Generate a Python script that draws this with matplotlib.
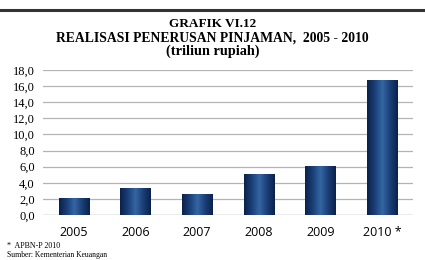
import numpy as np
import matplotlib
matplotlib.use("Agg")
import matplotlib.pyplot as plt
from matplotlib.colors import LinearSegmentedColormap

# data
years = ["2005", "2006", "2007", "2008", "2009", "2010 *"]
values = [2.1, 3.4, 2.6, 5.1, 6.1, 16.7]
yticks = [0, 2, 4, 6, 8, 10, 12, 14, 16, 18]

SERIF = ["Liberation Serif", "DejaVu Serif"]
BAR_CMAP = LinearSegmentedColormap.from_list(
    "bar", ["#0b224a", "#1a3f78", "#3566a3", "#1a3f78", "#0b224a"])

fig = plt.figure(figsize=(4.25, 2.6), dpi=100)
ax = fig.add_axes([43 / 425, 45 / 260, 370 / 425, 145 / 260])

x = np.arange(len(years))
bars = ax.bar(x, values, width=0.49, color="none", edgecolor="none", zorder=3)
grad = np.linspace(0, 1, 64).reshape(1, -1)
for b in bars:
    im = ax.imshow(grad, cmap=BAR_CMAP, aspect="auto", zorder=3,
                   extent=[b.get_x(), b.get_x() + b.get_width(), 0, b.get_height()])
    im.set_clip_path(b)

ax.set_xlim(-0.5, len(years) - 0.5)
ax.set_ylim(0, 18)
ax.set_yticks(yticks)
ax.set_yticklabels([f"{v:.1f}".replace(".", ",") for v in yticks],
                   family=SERIF, fontsize=9)
ax.set_xticks(x)
ax.set_xticklabels(years, family=["Open Sans", "DejaVu Sans"], fontsize=9)
ax.tick_params(length=0)
ax.tick_params(axis="y", pad=6)
ax.tick_params(axis="x", pad=8)
ax.yaxis.grid(True, color="#b4b4b4", lw=0.9, zorder=0)
for s in ax.spines.values():
    s.set_visible(False)
ax.axhline(0, color="#a0a0a0", lw=0.9, zorder=1)

# header rule and titles
fig.add_artist(plt.Line2D([0, 1], [1 - 10 / 260] * 2, color="#333333", lw=2.2))
fig.text(0.5, 1 - 24 / 260, "GRAFIK VI.12", ha="center", va="center",
         family=SERIF, fontweight="bold", fontsize=9.5)
fig.text(0.5, 1 - 38 / 260, "REALISASI PENERUSAN PINJAMAN,  2005 - 2010",
         ha="center", va="center", family=SERIF, fontweight="bold", fontsize=9.8)
fig.text(0.5, 1 - 51 / 260, "(triliun rupiah)", ha="center", va="center",
         family=SERIF, fontweight="bold", fontsize=10.3)

fig.text(7 / 425, 1 - 246 / 260, "*  APBN-P 2010", ha="left", va="center",
         family=SERIF, fontsize=5.8)
fig.text(7 / 425, 1 / 260, "Sumber: Kementerian Keuangan", ha="left",
         va="bottom", family=SERIF, fontsize=5.5)

fig.savefig("out.png", dpi=100)
